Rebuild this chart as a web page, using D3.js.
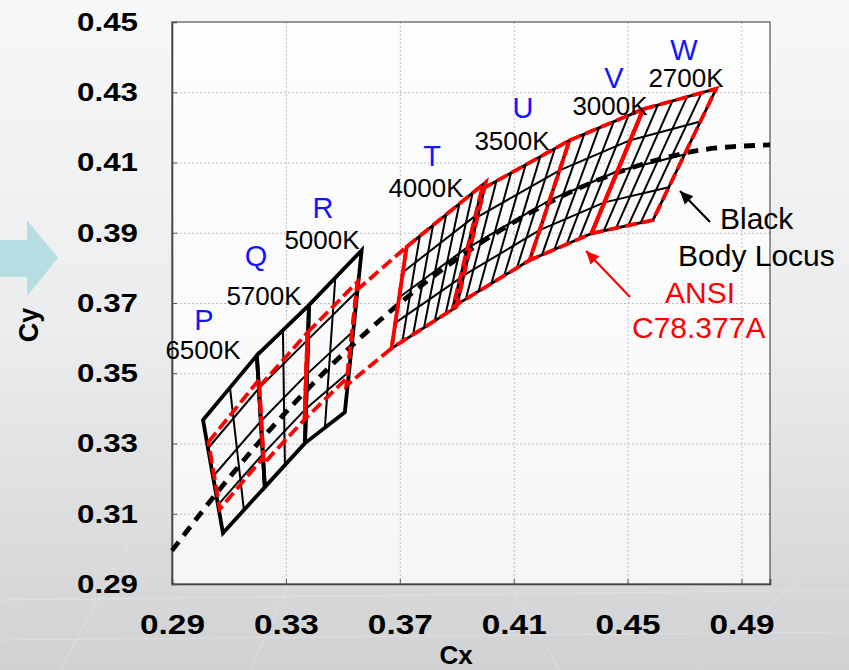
<!DOCTYPE html>
<html><head><meta charset="utf-8">
<script src="https://cdn.jsdelivr.net/npm/d3@7"></script>
<style>html,body{margin:0;padding:0;background:#e6e8ea;} svg{display:block;}</style>
</head><body><svg id="c" width="849" height="670"></svg>
<script>
// ---------------- data ----------------
const xTicks = [0.29, 0.33, 0.37, 0.41, 0.45, 0.49];
const yTicks = [0.29, 0.31, 0.33, 0.35, 0.37, 0.39, 0.41, 0.43, 0.45];

// black body (Planckian) locus
const locus = [[0.2900,0.2995],[0.2950,0.3048],[0.3064,0.3166],[0.3135,0.3236],[0.3221,0.3318],
  [0.3324,0.3410],[0.3451,0.3516],[0.3608,0.3635],[0.3805,0.3768],[0.4053,0.3907],
  [0.4369,0.4041],[0.4599,0.4106],[0.4770,0.4137],[0.5000,0.4150]];

// binned quadrangles (corners: TL, TR, BR, BL)
const binNames = ["P","Q","R","T","U","V","W"];
const binCCT   = ["6500K","5700K","5000K","4000K","3500K","3000K","2700K"];
const binCorners = [
  [[0.3009,0.3367],[0.3198,0.3551],[0.3226,0.3176],[0.3079,0.3045]],
  [[0.3198,0.3551],[0.3381,0.3694],[0.3367,0.3301],[0.3226,0.3176]],
  [[0.3381,0.3694],[0.3566,0.3850],[0.3507,0.3389],[0.3367,0.3301]],
  [[0.3724,0.3860],[0.4002,0.4044],[0.3899,0.3689],[0.3671,0.3571]],
  [[0.3988,0.4024],[0.4296,0.4163],[0.4156,0.3822],[0.3887,0.3689]],
  [[0.4296,0.4163],[0.4555,0.4252],[0.4373,0.3898],[0.4156,0.3822]],
  [[0.4555,0.4252],[0.4811,0.4310],[0.4589,0.3936],[0.4373,0.3898]]
];
const binCols = [2, 2, 2, 6, 6, 5, 5];
const binRows = [4, 4, 4, 4, 4, 4, 4];

// ANSI C78.377A quadrangles (TL, TR, BR, BL)
const ansiCCT = [6500, 5700, 5000, 4500, 4000, 3500, 3000, 2700];
const ansiCorners = [
  [[0.3028,0.3304],[0.3205,0.3481],[0.3221,0.3261],[0.3068,0.3113]],
  [[0.3207,0.3462],[0.3376,0.3616],[0.3366,0.3369],[0.3222,0.3243]],
  [[0.3376,0.3616],[0.3551,0.3760],[0.3515,0.3487],[0.3366,0.3369]],
  [[0.3548,0.3736],[0.3724,0.3860],[0.3671,0.3571],[0.3512,0.3465]],
  [[0.3724,0.3860],[0.4002,0.4044],[0.3899,0.3689],[0.3671,0.3571]],
  [[0.3988,0.4024],[0.4296,0.4163],[0.4156,0.3822],[0.3887,0.3689]],
  [[0.4296,0.4163],[0.4555,0.4252],[0.4373,0.3898],[0.4156,0.3822]],
  [[0.4555,0.4252],[0.4811,0.4310],[0.4589,0.3936],[0.4373,0.3898]]
];
// ANSI boundaries drawn solid
const ansiSolid = [
  [[0.3376,0.3616],[0.3366,0.3369]],
  [[0.4555,0.4252],[0.4373,0.3898]]
];

// ---------------- layout ----------------
const W = 849, H = 670;
const L = 172, R = 770, T = 22, B = 584;
const svg = d3.select("#c");
const x = d3.scaleLinear().domain([0.29, 0.50]).range([L, R]);
const y = d3.scaleLinear().domain([0.29, 0.45]).range([B, T]);
const font = "Liberation Sans, Arial, sans-serif";

// background
const defs = svg.append("defs");
const bg = defs.append("linearGradient").attr("id","bg").attr("x1",0).attr("y1",0).attr("x2",0).attr("y2",1);
bg.append("stop").attr("offset","0%").attr("stop-color","#f5f7f9");
bg.append("stop").attr("offset","50%").attr("stop-color","#eaeced");
bg.append("stop").attr("offset","100%").attr("stop-color","#cfd1d3");
svg.append("rect").attr("width",W).attr("height",H).attr("fill","url(#bg)");
// faint texture lines
const tex = svg.append("g").attr("stroke","#ffffff").attr("stroke-opacity",0.25).attr("stroke-width",1).attr("fill","none");
[[0,600,849,590],[0,640,849,632],[60,670,130,540],[560,670,470,520],[700,670,820,560],[250,670,300,560]].forEach(l=>{
  tex.append("line").attr("x1",l[0]).attr("y1",l[1]).attr("x2",l[2]).attr("y2",l[3]);
});

// left arrow
svg.append("polygon")
  .attr("points","0,240 27,240 27,220 58,258 27,296 27,277 0,277")
  .attr("fill","#b6dde1");

// plot area
svg.append("rect").attr("x",L).attr("y",T).attr("width",R-L).attr("height",B-T)
  .attr("fill","#ffffff").attr("fill-opacity",0.75);

// grid
const gridX = svg.append("g").attr("transform",`translate(0,${B})`)
  .call(d3.axisBottom(x).tickValues(xTicks.slice(1)).tickSize(-(B-T)).tickFormat(""));
gridX.select(".domain").remove();
gridX.selectAll("line").attr("stroke","#bdbdbd").attr("stroke-dasharray","2,2");
const gridY = svg.append("g").attr("transform",`translate(${L},0)`)
  .call(d3.axisLeft(y).tickValues(yTicks.slice(1,-1)).tickSize(-(R-L)).tickFormat(""));
gridY.select(".domain").remove();
gridY.selectAll("line").attr("stroke","#bdbdbd").attr("stroke-dasharray","2,2");

// frame
svg.append("rect").attr("x",L).attr("y",T).attr("width",R-L).attr("height",B-T)
  .attr("fill","none").attr("stroke","#333").attr("stroke-width",1);

// axes
const fmt = d3.format(".2f");
const ax = svg.append("g").attr("transform",`translate(0,${B})`)
  .call(d3.axisBottom(x).tickValues(xTicks).tickSize(-5).tickPadding(30).tickFormat(fmt));
ax.select(".domain").attr("stroke","#444").attr("stroke-width",1.6);
ax.selectAll(".tick line").attr("stroke","#555");
ax.selectAll("text").attr("font-family",font)
  .attr("font-weight","bold").attr("font-size",28).attr("fill","#000")
  .attr("textLength",65).attr("lengthAdjust","spacingAndGlyphs");

const ay = svg.append("g").attr("transform",`translate(${L},0)`)
  .call(d3.axisLeft(y).tickValues(yTicks).tickSize(-5).tickPadding(34).tickFormat(fmt));
ay.select(".domain").attr("stroke","#444").attr("stroke-width",1.6);
ay.selectAll(".tick line").attr("stroke","#555");
ay.selectAll("text").attr("font-family",font)
  .attr("font-weight","bold").attr("font-size",26).attr("fill","#000")
  .attr("textLength",61).attr("lengthAdjust","spacingAndGlyphs");

svg.append("text").attr("x",456).attr("y",664).attr("text-anchor","middle")
  .attr("font-family",font).attr("font-weight","bold")
  .attr("font-size",26).text("Cx");
svg.append("text").attr("transform","translate(38,325) rotate(-90)").attr("text-anchor","middle")
  .attr("font-family",font).attr("font-weight","bold")
  .attr("font-size",27).text("Cy");

// ---------------- marks ----------------
const line = d3.line().x(d=>x(d[0])).y(d=>y(d[1]));
const lerp = (a,b,t)=>[a[0]+(b[0]-a[0])*t, a[1]+(b[1]-a[1])*t];

const gBins = svg.append("g").attr("fill","none").attr("stroke","#000");
binCorners.forEach((c,i)=>{
  const [tl,tr,br,bl] = c;
  const big = i < 3;
  for (let k=1;k<binCols[i];k++){
    const t=k/binCols[i];
    gBins.append("path").attr("d",line([lerp(tl,tr,t),lerp(bl,br,t)])).attr("stroke-width",2);
  }
  for (let k=1;k<binRows[i];k++){
    const t=k/binRows[i];
    gBins.append("path").attr("d",line([lerp(tl,bl,t),lerp(tr,br,t)])).attr("stroke-width",2);
  }
  gBins.append("path").attr("d",line([tl,tr,br,bl])+"Z")
    .attr("stroke-width",big?3.8:2.8).attr("stroke-linejoin","miter");
});

// locus
svg.append("path").attr("d",d3.line().curve(d3.curveMonotoneX).x(d=>x(d[0])).y(d=>y(d[1]))(locus))
  .attr("fill","none").attr("stroke","#000").attr("stroke-width",4.8)
  .attr("stroke-dasharray","11,8").attr("stroke-linecap","butt");

// ANSI quadrangles
const gA = svg.append("g").attr("fill","none").attr("stroke","#ff0000");
ansiCorners.forEach((c,i)=>{
  gA.append("path").attr("d",line(c)+"Z").attr("stroke-width",3.8)
    .attr("stroke-dasharray","12,5");
});
ansiSolid.forEach(s=>{
  gA.append("path").attr("d",line(s)).attr("stroke-width",4);
});

// labels
const letterPos = [[204,330],[256,266],[323,218],[432,166],[523,118],[614,88],[684,60]];
const cctPos = [[203,359],[264,305],[322,249],[426,197],[512,150],[610,115],[686,87]];
binNames.forEach((n,i)=>{
  svg.append("text").attr("x",letterPos[i][0]).attr("y",letterPos[i][1]).attr("text-anchor","middle")
    .attr("font-family",font).attr("font-size",29).attr("fill","#1414ff").text(n);
  svg.append("text").attr("x",cctPos[i][0]).attr("y",cctPos[i][1]).attr("text-anchor","middle")
    .attr("font-family",font).attr("font-size",26).attr("fill","#000").text(binCCT[i]);
});

// annotations
function arrow(x1,y1,x2,y2,color){
  svg.append("line").attr("x1",x1).attr("y1",y1).attr("x2",x2).attr("y2",y2)
    .attr("stroke",color).attr("stroke-width",2.2);
  const a=Math.atan2(y2-y1,x2-x1), len=13, w=6;
  const bx=x2-len*Math.cos(a), by=y2-len*Math.sin(a);
  const px=-Math.sin(a)*w, py=Math.cos(a)*w;
  svg.append("polygon").attr("points",`${x2},${y2} ${bx+px},${by+py} ${bx-px},${by-py}`).attr("fill",color);
}
arrow(710,222,680,191,"#000");
arrow(630,297,586,251,"#ff0000");
svg.append("text").attr("x",720).attr("y",229).attr("font-family",font).attr("font-size",30).text("Black");
svg.append("text").attr("x",678).attr("y",266).attr("font-family",font).attr("font-size",30).text("Body Locus");
svg.append("text").attr("x",665).attr("y",303).attr("font-family",font).attr("font-size",30).attr("fill","#ff0000").text("ANSI");
svg.append("text").attr("x",632).attr("y",338).attr("font-family",font).attr("font-size",30).attr("fill","#ff0000").text("C78.377A");
</script></body></html>
